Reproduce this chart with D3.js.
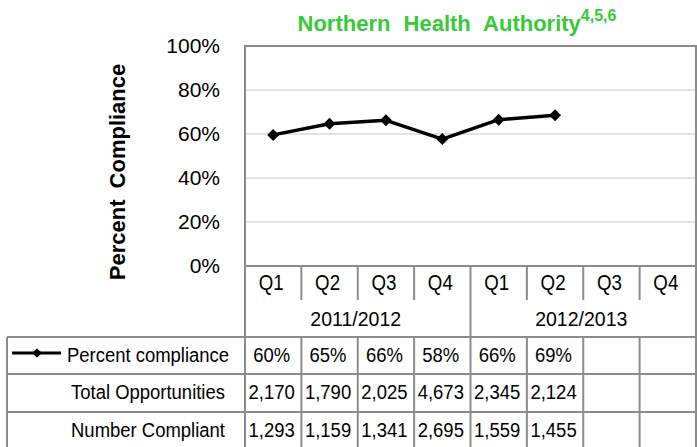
<!DOCTYPE html>
<html>
<head>
<meta charset="utf-8">
<script src="https://cdn.jsdelivr.net/npm/d3@7"></script>
<style>
  body { margin: 0; background: #fff; }
  svg { display: block; }
</style>
</head>
<body>
<div class="chart"></div>
<script>
// data
const quarters = ["Q1", "Q2", "Q3", "Q4", "Q1", "Q2", "Q3", "Q4"];
const years = ["2011/2012", "2012/2013"];
const compliance = [59.6, 64.7, 66.2, 57.7, 66.5, 68.5];
const complianceLabels = ["60%", "65%", "66%", "58%", "66%", "69%"];
const totalOpportunities = ["2,170", "1,790", "2,025", "4,673", "2,345", "2,124"];
const numberCompliant = ["1,293", "1,159", "1,341", "2,695", "1,559", "1,455"];
const yTicks = [0, 20, 40, 60, 80, 100];

const width = 697;
const height = 447;
const plotLeft = 245, plotRight = 696, plotTop = 46, plotBottom = 266;
const gridColor = "#d9d9d9";
const lineColor = "#8c8c8c";
const sans = "'Liberation Sans', Arial, sans-serif";

const svg = d3.select(".chart").append("svg")
  .attr("width", width)
  .attr("height", height);

const x = d3.scaleBand()
  .domain(d3.range(quarters.length))
  .range([plotLeft, plotRight]);

const y = d3.scaleLinear()
  .domain([0, 100])
  .range([plotBottom, plotTop]);

// no narrow font installed, so squeeze the regular one horizontally
function narrowText(g, data, cx, cy, k) {
  return g.selectAll(null)
    .data(data)
    .enter()
    .append("text")
    .attr("transform", (d, i) => "translate(" + cx(d, i) + "," + cy(d, i) + ") scale(" + k + ",1)")
    .attr("text-anchor", "middle")
    .style("font-family", sans)
    .style("font-size", "21px")
    .attr("fill", "#000")
    .text(d => d)
}

// title
const title = svg.append("text")
  .attr("x", 457)
  .attr("y", 31)
  .attr("text-anchor", "middle")
  .style("font-family", sans)
  .style("font-size", "22px")
  .style("font-weight", "bold")
  .style("word-spacing", "7px")
  .attr("fill", "#33cc33")
title.append("tspan").text("Northern Health Authority")
title.append("tspan")
  .attr("dy", "-10")
  .style("font-size", "16px")
  .style("word-spacing", "0px")
  .text("4,5,6")

// gridlines
svg.append("g")
  .selectAll("line")
  .data(yTicks.filter(d => d > 0 && d < 100))
  .enter()
  .append("line")
  .attr("x1", plotLeft)
  .attr("x2", plotRight)
  .attr("y1", d => y(d))
  .attr("y2", d => y(d))
  .attr("stroke", gridColor)
  .attr("stroke-width", 1.5)

// y axis
const yAxis = svg.append("g")
  .attr("transform", "translate(" + plotLeft + ",0)")
  .call(d3.axisLeft(y).tickValues(yTicks).tickSize(0).tickPadding(25).tickFormat(d => d + "%"))
yAxis.select(".domain").remove()
yAxis.selectAll("text")
  .style("font-family", sans)
  .style("font-size", "21px")
  .attr("fill", "#000")

svg.append("text")
  .attr("transform", "translate(125," + 172 + ") rotate(-90)")
  .attr("text-anchor", "middle")
  .style("font-family", sans)
  .style("font-size", "22px")
  .style("font-weight", "bold")
  .style("word-spacing", "5px")
  .text("Percent Compliance")

// plot frame
svg.append("path")
  .attr("d", "M" + plotLeft + "," + 337 + "V" + plotTop + "H" + plotRight + "V" + 337)
  .attr("fill", "none")
  .attr("stroke", lineColor)
  .attr("stroke-width", 2)
svg.append("line")
  .attr("x1", plotLeft).attr("x2", plotRight)
  .attr("y1", y(0)).attr("y2", y(0))
  .attr("stroke", lineColor)
  .attr("stroke-width", 2)

// category axis: quarter ticks and year separators
const bounds = d3.range(1, quarters.length).map(i => x(i));
svg.append("g")
  .selectAll("line")
  .data(bounds)
  .enter()
  .append("line")
  .attr("x1", d => d).attr("x2", d => d)
  .attr("y1", y(0))
  .attr("y2", (d, i) => i === 3 ? 337 : 300)
  .attr("stroke", lineColor)
  .attr("stroke-width", 2)

narrowText(svg.append("g"), quarters, (d, i) => x(i) + x.bandwidth() / 2 - 2, () => 290, 0.85)
  .style("font-size", "22px")
narrowText(svg.append("g"), years, (d, i) => x(i * 4) + x.bandwidth() * 2 - 2, () => 326, 0.93)

// series line
const line = d3.line()
  .x((d, i) => x(i) + x.bandwidth() / 2)
  .y(d => y(d))

svg.append("path")
  .datum(compliance)
  .attr("d", line)
  .attr("fill", "none")
  .attr("stroke", "#000")
  .attr("stroke-width", 3.5)
  .attr("stroke-linejoin", "round")

svg.append("g")
  .selectAll("path")
  .data(compliance)
  .enter()
  .append("path")
  .attr("d", "M0,-6L6,0L0,6L-6,0Z")
  .attr("transform", (d, i) => "translate(" + (x(i) + x.bandwidth() / 2) + "," + y(d) + ")")
  .attr("fill", "#000")

// data table
const rowEdges = [337, 374, 412, 450];
const rows = [complianceLabels, totalOpportunities, numberCompliant];
const rowNames = ["Percent compliance", "Total Opportunities", "Number Compliant"];

const table = svg.append("g")

table.selectAll(".hline")
  .data(rowEdges)
  .enter()
  .append("line")
  .attr("x1", 7).attr("x2", plotRight)
  .attr("y1", d => d).attr("y2", d => d)
  .attr("stroke", lineColor)
  .attr("stroke-width", 2)

table.selectAll(".vline")
  .data([7].concat(d3.range(quarters.length + 1).map(i => i < quarters.length ? x(i) : plotRight)))
  .enter()
  .append("line")
  .attr("x1", d => d).attr("x2", d => d)
  .attr("y1", rowEdges[0]).attr("y2", rowEdges[3])
  .attr("stroke", lineColor)
  .attr("stroke-width", 2)

rows.forEach(function(values, r) {
  narrowText(table.append("g"), values, (d, i) => x(i) + x.bandwidth() / 2 - 1.5, () => rowEdges[r] + 25, 0.88)
})
narrowText(table.append("g"), rowNames, () => 148, (d, i) => rowEdges[i] + 25, 0.88)

// legend key in the table
table.append("line")
  .attr("x1", 12).attr("x2", 61)
  .attr("y1", 353).attr("y2", 353)
  .attr("stroke", "#000")
  .attr("stroke-width", 3)
table.append("path")
  .attr("d", "M0,-4.5L5,0L0,4.5L-5,0Z")
  .attr("transform", "translate(37,353)")
  .attr("fill", "#000")
</script>
</body>
</html>
